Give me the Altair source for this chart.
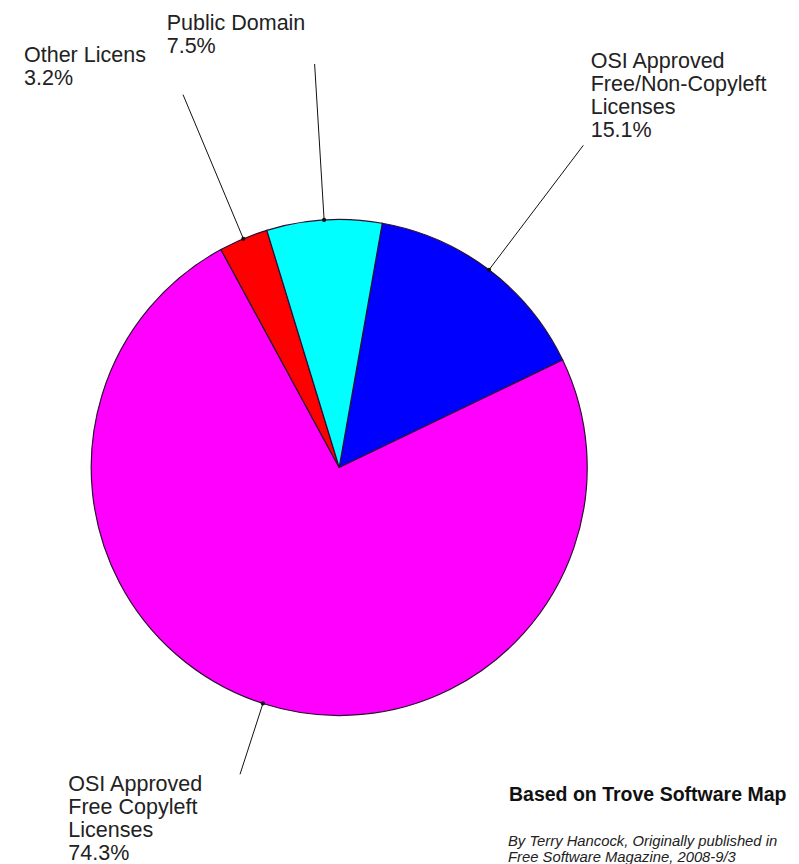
import math
import altair as alt
import pandas as pd

# ---------------- data ----------------
categories = [
    "OSI Approved Free/Non-Copyleft Licenses",
    "OSI Approved Free Copyleft Licenses",
    "Other Licenses",
    "Public Domain",
]
shares = [15.1, 74.3, 3.2, 7.5]
label_texts = [
    "OSI Approved\nFree/Non-Copyleft\nLicenses\n15.1%",
    "OSI Approved\nFree Copyleft\nLicenses\n74.3%",
    "Other Licens\n3.2%",
    "Public Domain\n7.5%",
]
source_note = ["Based on Trove Software Map"]
credit_note = ["By Terry Hancock, Originally published in\nFree Software Magazine, 2008-9/3"]

# ---------------- style / layout ----------------
slice_colors = ["#0000ff", "#ff00ff", "#ff0000", "#00ffff"]
W, H = 783, 856
CX, CY, R = 331.2, 459.5, 248
START = math.radians(10)
leader_reach = [1.63, 1.30, 1.63, 1.63]   # multiples of R
label_x = [582.7, 60.3, 16.0, 158.7]
label_y = [59.7, 783.0, 53.7, 22.0]
label_lh = 23
FONT = "Liberation Sans"

total = sum(shares)
df = pd.DataFrame({
    "category": categories,
    "share": shares,
    "order": list(range(len(categories))),
    "reach": [r * R for r in leader_reach],
    "label": label_texts,
    "lx": label_x,
    "ly": label_y,
})

theta_scale = alt.Scale(domain=[0, total], range=[START, START + 2 * math.pi])

pie = alt.Chart(df).mark_arc(outerRadius=R, stroke="#2a1030", strokeWidth=1.2).encode(
    theta=alt.Theta("share:Q", stack=True, scale=theta_scale),
    order=alt.Order("order:Q"),
    color=alt.Color("category:N", scale=alt.Scale(domain=categories, range=slice_colors), legend=None),
    x=alt.value(CX),
    y=alt.value(CY),
)

geo = alt.Chart(df).transform_window(
    cum="sum(share)", sort=[alt.SortField("order")], frame=[None, 0]
).transform_calculate(
    mid=f"{START} + 2*PI*(datum.cum - datum.share/2)/{total}",
).transform_calculate(
    x_in=f"{CX} + {R}*sin(datum.mid)",
    y_in=f"{CY} - {R}*cos(datum.mid)",
    x_out=f"{CX} + datum.reach*sin(datum.mid)",
    y_out=f"{CY} - datum.reach*cos(datum.mid)",
)

leaders = geo.mark_rule(color="#111111", strokeWidth=1).encode(
    x=alt.X("x_in:Q", scale=None, axis=None),
    y=alt.Y("y_in:Q", scale=None, axis=None),
    x2="x_out:Q",
    y2="y_out:Q",
)

tips = geo.mark_point(filled=True, color="#111111", size=18, opacity=1).encode(
    x=alt.X("x_in:Q", scale=None, axis=None),
    y=alt.Y("y_in:Q", scale=None, axis=None),
)

labels = alt.Chart(df).mark_text(
    align="left", baseline="alphabetic", font=FONT, fontSize=21.5,
    lineHeight=label_lh, lineBreak="\n", color="#222222",
).encode(
    x=alt.X("lx:Q", scale=None, axis=None),
    y=alt.Y("ly:Q", scale=None, axis=None),
    text="label:N",
)

note = alt.Chart(pd.DataFrame({"t": source_note})).mark_text(
    align="left", baseline="alphabetic", font=FONT, fontSize=19.5, fontWeight="bold", color="#111111",
).encode(x=alt.value(501), y=alt.value(793), text="t:N")

credit = alt.Chart(pd.DataFrame({"t": credit_note})).mark_text(
    align="left", baseline="alphabetic", font=FONT, fontSize=14.8, fontStyle="italic",
    lineHeight=16, lineBreak="\n", color="#222222",
).encode(x=alt.value(500), y=alt.value(838), text="t:N")

chart = alt.layer(pie, leaders, tips, labels, note, credit).properties(
    width=W, height=H, autosize="none", padding=0,
).configure_view(stroke=None)

chart.save("out.html", embed_options={"renderer": "svg", "actions": False})
